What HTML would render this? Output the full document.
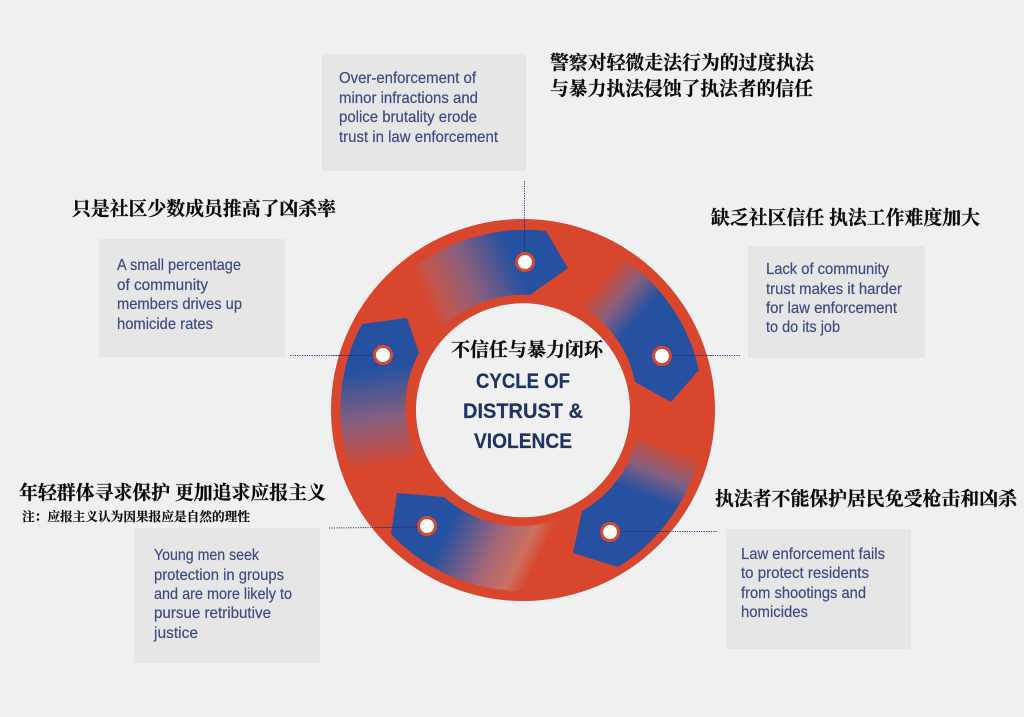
<!DOCTYPE html>
<html>
<head>
<meta charset="utf-8">
<style>
html,body{margin:0;padding:0;background:#f0f0f0;width:1024px;height:717px;overflow:hidden}
svg{display:block}
.en{font-family:"Liberation Sans",sans-serif;font-size:16px;fill:#3f4c86;stroke:#3f4c86;stroke-width:.2px}
.cn{font-family:"Liberation Serif","Noto Serif CJK SC",serif;font-weight:700;font-size:19px;fill:#0a0a0a;stroke:#0a0a0a;stroke-width:.25px}
.t{font-family:"Liberation Sans",sans-serif;font-weight:700;font-size:21px;fill:#1f3266;stroke:#1f3266;stroke-width:.2px}
</style>
</head>
<body>
<svg width="1024" height="717" viewBox="0 0 1024 717" xmlns="http://www.w3.org/2000/svg">
<defs>
<linearGradient id="g1" gradientUnits="userSpaceOnUse" x1="515" y1="262" x2="426" y2="302">
<stop offset="0" stop-color="#2651a1"/><stop offset="0.5" stop-color="#8c5f7c"/><stop offset="0.85" stop-color="#c2574f"/><stop offset="1" stop-color="#d9462e"/>
</linearGradient>
<linearGradient id="g2" gradientUnits="userSpaceOnUse" x1="640" y1="316" x2="600" y2="282">
<stop offset="0" stop-color="#2651a1"/><stop offset="0.5" stop-color="#8c5f7c"/><stop offset="1" stop-color="#d9462e"/>
</linearGradient>
<linearGradient id="g3" gradientUnits="userSpaceOnUse" x1="647" y1="496" x2="668" y2="445">
<stop offset="0" stop-color="#2651a1"/><stop offset="0.45" stop-color="#85607f"/><stop offset="1" stop-color="#d9462e"/>
</linearGradient>
<linearGradient id="g4" gradientUnits="userSpaceOnUse" x1="445" y1="535" x2="530" y2="577">
<stop offset="0" stop-color="#2651a1"/><stop offset="0.5" stop-color="#a0657a"/><stop offset="0.82" stop-color="#cc705f"/><stop offset="1" stop-color="#d9462e"/>
</linearGradient>
<linearGradient id="g5" gradientUnits="userSpaceOnUse" x1="385" y1="368" x2="399" y2="466">
<stop offset="0" stop-color="#2651a1"/><stop offset="0.5" stop-color="#85607f"/><stop offset="1" stop-color="#d9462e"/>
</linearGradient>
</defs>

<rect width="1024" height="717" fill="#f0f0f0"/>

<!-- boxes -->
<rect x="322" y="54" width="204" height="117" fill="#e6e6e6"/>
<rect x="748" y="246" width="177" height="112" fill="#e6e6e6"/>
<rect x="726" y="529" width="185" height="120" fill="#e6e6e6"/>
<rect x="134" y="528" width="186" height="135" fill="#e6e6e6"/>
<rect x="99" y="239" width="186" height="118" fill="#e6e6e6"/>

<!-- ring -->
<ellipse cx="523" cy="410" rx="192" ry="191" fill="#d9462e"/>
<circle cx="523" cy="410.3" r="107" fill="#f0f0f0"/>

<!-- segments -->
<path d="M546 231 L568 268 L530 295 A115 115 0 0 0 442 328 L408 273 A181 181 0 0 1 546 231Z" fill="url(#g1)"/>
<path d="M620 257 A181 181 0 0 1 699 370 L671 402 L635 382 A115 115 0 0 0 580 305Z" fill="url(#g2)"/>
<path d="M637 438 L698 460 A181 181 0 0 1 618 567 L573 553 L582 511 A115 115 0 0 0 637 438Z" fill="url(#g3)"/>
<path d="M397 493 L444 497 A115 115 0 0 0 557 520 L522 591 A181 181 0 0 1 391 534Z" fill="url(#g4)"/>
<path d="M362 324 L407 318 L419 353 A115 115 0 0 0 417 458 L350 468 A181 181 0 0 1 362 324Z" fill="url(#g5)"/>

<!-- dotted connectors -->
<g stroke="#33397c" stroke-width="1" stroke-dasharray="1.2 1.2" fill="none">
<line x1="524.5" y1="181" x2="524.5" y2="262"/>
<line x1="662" y1="355.5" x2="740" y2="355.5"/>
<line x1="610" y1="531.5" x2="718" y2="531.5"/>
<line x1="329" y1="528" x2="427" y2="527"/>
<line x1="290" y1="355.5" x2="382" y2="355.5"/>
</g>
<g stroke="#2a2a66" stroke-width="1" stroke-opacity=".4" fill="none">
<line x1="524.5" y1="219" x2="524.5" y2="262"/>
<line x1="662" y1="355.5" x2="713" y2="355.5"/>
<line x1="610" y1="531.5" x2="668" y2="531.5"/>
<line x1="375" y1="527.5" x2="427" y2="527"/>
<line x1="332" y1="355.5" x2="382" y2="355.5"/>
</g>

<!-- dots -->
<g fill="#fff" stroke="#d9462e" stroke-width="3">
<circle cx="525" cy="262" r="8.5"/>
<circle cx="662" cy="356" r="8.5"/>
<circle cx="610" cy="532" r="8.5"/>
<circle cx="427" cy="526" r="8.5"/>
<circle cx="383" cy="355" r="8.5"/>
</g>

<!-- center -->
<text class="cn" x="451" y="356" textLength="152" lengthAdjust="spacingAndGlyphs">不信任与暴力闭环</text>
<text class="t" x="476" y="388" textLength="94" lengthAdjust="spacingAndGlyphs">CYCLE OF</text>
<text class="t" x="463" y="418" textLength="120" lengthAdjust="spacingAndGlyphs">DISTRUST &amp;</text>
<text class="t" x="474" y="448" textLength="98" lengthAdjust="spacingAndGlyphs">VIOLENCE</text>

<!-- English labels -->
<text class="en" x="339" y="83" textLength="137" lengthAdjust="spacingAndGlyphs">Over-enforcement of</text>
<text class="en" x="339" y="103" textLength="139" lengthAdjust="spacingAndGlyphs">minor infractions and</text>
<text class="en" x="339" y="122" textLength="138" lengthAdjust="spacingAndGlyphs">police brutality erode</text>
<text class="en" x="339" y="142" textLength="159" lengthAdjust="spacingAndGlyphs">trust in law enforcement</text>

<text class="en" x="766" y="274" textLength="123" lengthAdjust="spacingAndGlyphs">Lack of community</text>
<text class="en" x="766" y="294" textLength="136" lengthAdjust="spacingAndGlyphs">trust makes it harder</text>
<text class="en" x="766" y="313" textLength="131" lengthAdjust="spacingAndGlyphs">for law enforcement</text>
<text class="en" x="766" y="332" textLength="74" lengthAdjust="spacingAndGlyphs">to do its job</text>

<text class="en" x="741" y="559" textLength="144" lengthAdjust="spacingAndGlyphs">Law enforcement fails</text>
<text class="en" x="741" y="578" textLength="128" lengthAdjust="spacingAndGlyphs">to protect residents</text>
<text class="en" x="741" y="598" textLength="125" lengthAdjust="spacingAndGlyphs">from shootings and</text>
<text class="en" x="741" y="617" textLength="67" lengthAdjust="spacingAndGlyphs">homicides</text>

<text class="en" x="154" y="560" textLength="105" lengthAdjust="spacingAndGlyphs">Young men seek</text>
<text class="en" x="154" y="580" textLength="130" lengthAdjust="spacingAndGlyphs">protection in groups</text>
<text class="en" x="154" y="599" textLength="138" lengthAdjust="spacingAndGlyphs">and are more likely to</text>
<text class="en" x="154" y="618" textLength="117" lengthAdjust="spacingAndGlyphs">pursue retributive</text>
<text class="en" x="154" y="638" textLength="44" lengthAdjust="spacingAndGlyphs">justice</text>

<text class="en" x="117" y="270" textLength="124" lengthAdjust="spacingAndGlyphs">A small percentage</text>
<text class="en" x="117" y="290" textLength="91" lengthAdjust="spacingAndGlyphs">of community</text>
<text class="en" x="117" y="309" textLength="125" lengthAdjust="spacingAndGlyphs">members drives up</text>
<text class="en" x="117" y="329" textLength="96" lengthAdjust="spacingAndGlyphs">homicide rates</text>

<!-- Chinese labels -->
<text class="cn" x="550" y="69" textLength="264" lengthAdjust="spacingAndGlyphs">警察对轻微走法行为的过度执法</text>
<text class="cn" x="550" y="95" textLength="263" lengthAdjust="spacingAndGlyphs">与暴力执法侵蚀了执法者的信任</text>
<text class="cn" x="711" y="224" textLength="269" lengthAdjust="spacingAndGlyphs">缺乏社区信任 执法工作难度加大</text>
<text class="cn" x="715" y="505" textLength="302" lengthAdjust="spacingAndGlyphs">执法者不能保护居民免受枪击和凶杀</text>
<text class="cn" x="72" y="215" textLength="264" lengthAdjust="spacingAndGlyphs">只是社区少数成员推高了凶杀率</text>
<text class="cn" x="19" y="499" textLength="307" lengthAdjust="spacingAndGlyphs">年轻群体寻求保护 更加追求应报主义</text>
<text class="cn" x="22" y="521" textLength="228" lengthAdjust="spacingAndGlyphs" style="font-size:12.5px;stroke-width:.15px">注：应报主义认为因果报应是自然的理性</text>
</svg>
</body>
</html>
